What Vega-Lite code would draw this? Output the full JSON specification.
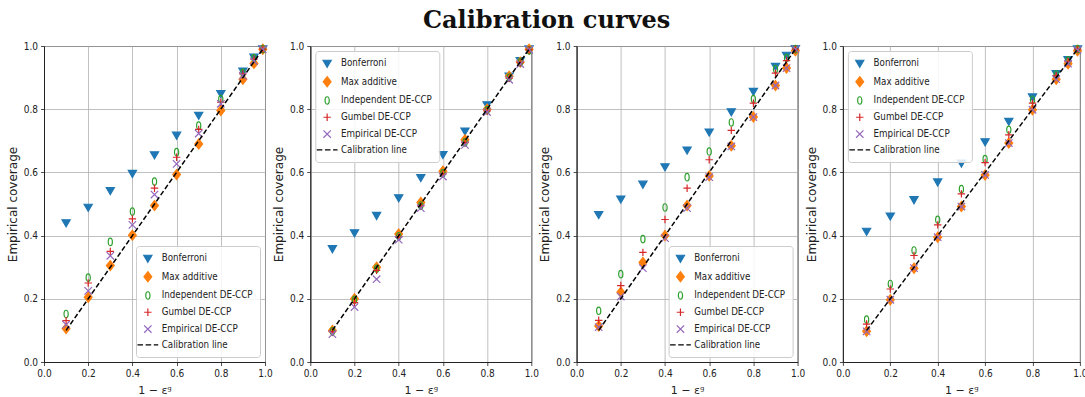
{
  "$schema": "https://vega.github.io/schema/vega-lite/v6.json",
  "title": {"text": "Calibration curves", "font": "DejaVu Serif", "fontWeight": "bold", "fontSize": 24, "color": "#111", "anchor": "middle", "offset": 8},
  "padding": {"left": 5, "top": 8, "right": 5, "bottom": 5},
  "bounds": "flush",
  "spacing": 45.3,
  "datasets": {
    "calib": [
      {"x": 0.1, "y": 0.1}, {"x": 0.2, "y": 0.2}, {"x": 0.3, "y": 0.3}, {"x": 0.4, "y": 0.4}, {"x": 0.5, "y": 0.5}, {"x": 0.6, "y": 0.6}, {"x": 0.7, "y": 0.7}, {"x": 0.8, "y": 0.8}, {"x": 0.9, "y": 0.9}, {"x": 0.95, "y": 0.95}, {"x": 0.99, "y": 0.99}
    ],
    "p1": [
      {"series": "Bonferroni", "x": 0.1, "y": 0.442}, {"series": "Bonferroni", "x": 0.2, "y": 0.491}, {"series": "Bonferroni", "x": 0.3, "y": 0.544}, {"series": "Bonferroni", "x": 0.4, "y": 0.598}, {"series": "Bonferroni", "x": 0.5, "y": 0.657}, {"series": "Bonferroni", "x": 0.6, "y": 0.719}, {"series": "Bonferroni", "x": 0.7, "y": 0.782}, {"series": "Bonferroni", "x": 0.8, "y": 0.851}, {"series": "Bonferroni", "x": 0.9, "y": 0.922}, {"series": "Bonferroni", "x": 0.95, "y": 0.966}, {"series": "Bonferroni", "x": 0.99, "y": 0.992},
      {"series": "Max additive", "x": 0.1, "y": 0.106}, {"series": "Max additive", "x": 0.2, "y": 0.205}, {"series": "Max additive", "x": 0.3, "y": 0.305}, {"series": "Max additive", "x": 0.4, "y": 0.401}, {"series": "Max additive", "x": 0.5, "y": 0.495}, {"series": "Max additive", "x": 0.6, "y": 0.593}, {"series": "Max additive", "x": 0.7, "y": 0.69}, {"series": "Max additive", "x": 0.8, "y": 0.796}, {"series": "Max additive", "x": 0.9, "y": 0.895}, {"series": "Max additive", "x": 0.95, "y": 0.945}, {"series": "Max additive", "x": 0.99, "y": 0.99},
      {"series": "Independent DE-CCP", "x": 0.1, "y": 0.152}, {"series": "Independent DE-CCP", "x": 0.2, "y": 0.267}, {"series": "Independent DE-CCP", "x": 0.3, "y": 0.38}, {"series": "Independent DE-CCP", "x": 0.4, "y": 0.476}, {"series": "Independent DE-CCP", "x": 0.5, "y": 0.571}, {"series": "Independent DE-CCP", "x": 0.6, "y": 0.664}, {"series": "Independent DE-CCP", "x": 0.7, "y": 0.748}, {"series": "Independent DE-CCP", "x": 0.8, "y": 0.832}, {"series": "Independent DE-CCP", "x": 0.9, "y": 0.915}, {"series": "Independent DE-CCP", "x": 0.95, "y": 0.962}, {"series": "Independent DE-CCP", "x": 0.99, "y": 0.99},
      {"series": "Gumbel DE-CCP", "x": 0.1, "y": 0.131}, {"series": "Gumbel DE-CCP", "x": 0.2, "y": 0.25}, {"series": "Gumbel DE-CCP", "x": 0.3, "y": 0.35}, {"series": "Gumbel DE-CCP", "x": 0.4, "y": 0.453}, {"series": "Gumbel DE-CCP", "x": 0.5, "y": 0.55}, {"series": "Gumbel DE-CCP", "x": 0.6, "y": 0.648}, {"series": "Gumbel DE-CCP", "x": 0.7, "y": 0.736}, {"series": "Gumbel DE-CCP", "x": 0.8, "y": 0.822}, {"series": "Gumbel DE-CCP", "x": 0.9, "y": 0.912}, {"series": "Gumbel DE-CCP", "x": 0.95, "y": 0.958}, {"series": "Gumbel DE-CCP", "x": 0.99, "y": 0.99},
      {"series": "Empirical DE-CCP", "x": 0.1, "y": 0.118}, {"series": "Empirical DE-CCP", "x": 0.2, "y": 0.225}, {"series": "Empirical DE-CCP", "x": 0.3, "y": 0.336}, {"series": "Empirical DE-CCP", "x": 0.4, "y": 0.434}, {"series": "Empirical DE-CCP", "x": 0.5, "y": 0.53}, {"series": "Empirical DE-CCP", "x": 0.6, "y": 0.627}, {"series": "Empirical DE-CCP", "x": 0.7, "y": 0.723}, {"series": "Empirical DE-CCP", "x": 0.8, "y": 0.817}, {"series": "Empirical DE-CCP", "x": 0.9, "y": 0.906}, {"series": "Empirical DE-CCP", "x": 0.95, "y": 0.952}, {"series": "Empirical DE-CCP", "x": 0.99, "y": 0.99}
    ],
    "p2": [
      {"series": "Bonferroni", "x": 0.1, "y": 0.36}, {"series": "Bonferroni", "x": 0.2, "y": 0.41}, {"series": "Bonferroni", "x": 0.3, "y": 0.465}, {"series": "Bonferroni", "x": 0.4, "y": 0.521}, {"series": "Bonferroni", "x": 0.5, "y": 0.585}, {"series": "Bonferroni", "x": 0.6, "y": 0.658}, {"series": "Bonferroni", "x": 0.7, "y": 0.732}, {"series": "Bonferroni", "x": 0.8, "y": 0.815}, {"series": "Bonferroni", "x": 0.9, "y": 0.906}, {"series": "Bonferroni", "x": 0.95, "y": 0.955}, {"series": "Bonferroni", "x": 0.99, "y": 0.992},
      {"series": "Max additive", "x": 0.1, "y": 0.1}, {"series": "Max additive", "x": 0.2, "y": 0.2}, {"series": "Max additive", "x": 0.3, "y": 0.3}, {"series": "Max additive", "x": 0.4, "y": 0.405}, {"series": "Max additive", "x": 0.5, "y": 0.505}, {"series": "Max additive", "x": 0.6, "y": 0.604}, {"series": "Max additive", "x": 0.7, "y": 0.703}, {"series": "Max additive", "x": 0.8, "y": 0.8}, {"series": "Max additive", "x": 0.9, "y": 0.904}, {"series": "Max additive", "x": 0.95, "y": 0.949}, {"series": "Max additive", "x": 0.99, "y": 0.99},
      {"series": "Independent DE-CCP", "x": 0.1, "y": 0.097}, {"series": "Independent DE-CCP", "x": 0.2, "y": 0.197}, {"series": "Independent DE-CCP", "x": 0.3, "y": 0.295}, {"series": "Independent DE-CCP", "x": 0.4, "y": 0.398}, {"series": "Independent DE-CCP", "x": 0.5, "y": 0.495}, {"series": "Independent DE-CCP", "x": 0.6, "y": 0.597}, {"series": "Independent DE-CCP", "x": 0.7, "y": 0.695}, {"series": "Independent DE-CCP", "x": 0.8, "y": 0.797}, {"series": "Independent DE-CCP", "x": 0.9, "y": 0.9}, {"series": "Independent DE-CCP", "x": 0.95, "y": 0.948}, {"series": "Independent DE-CCP", "x": 0.99, "y": 0.986},
      {"series": "Gumbel DE-CCP", "x": 0.1, "y": 0.096}, {"series": "Gumbel DE-CCP", "x": 0.2, "y": 0.188}, {"series": "Gumbel DE-CCP", "x": 0.3, "y": 0.29}, {"series": "Gumbel DE-CCP", "x": 0.4, "y": 0.395}, {"series": "Gumbel DE-CCP", "x": 0.5, "y": 0.494}, {"series": "Gumbel DE-CCP", "x": 0.6, "y": 0.595}, {"series": "Gumbel DE-CCP", "x": 0.7, "y": 0.694}, {"series": "Gumbel DE-CCP", "x": 0.8, "y": 0.795}, {"series": "Gumbel DE-CCP", "x": 0.9, "y": 0.898}, {"series": "Gumbel DE-CCP", "x": 0.95, "y": 0.947}, {"series": "Gumbel DE-CCP", "x": 0.99, "y": 0.988},
      {"series": "Empirical DE-CCP", "x": 0.1, "y": 0.088}, {"series": "Empirical DE-CCP", "x": 0.2, "y": 0.174}, {"series": "Empirical DE-CCP", "x": 0.3, "y": 0.262}, {"series": "Empirical DE-CCP", "x": 0.4, "y": 0.387}, {"series": "Empirical DE-CCP", "x": 0.5, "y": 0.487}, {"series": "Empirical DE-CCP", "x": 0.6, "y": 0.587}, {"series": "Empirical DE-CCP", "x": 0.7, "y": 0.687}, {"series": "Empirical DE-CCP", "x": 0.8, "y": 0.791}, {"series": "Empirical DE-CCP", "x": 0.9, "y": 0.893}, {"series": "Empirical DE-CCP", "x": 0.95, "y": 0.943}, {"series": "Empirical DE-CCP", "x": 0.99, "y": 0.988}
    ],
    "p3": [
      {"series": "Bonferroni", "x": 0.1, "y": 0.468}, {"series": "Bonferroni", "x": 0.2, "y": 0.517}, {"series": "Bonferroni", "x": 0.3, "y": 0.564}, {"series": "Bonferroni", "x": 0.4, "y": 0.619}, {"series": "Bonferroni", "x": 0.5, "y": 0.672}, {"series": "Bonferroni", "x": 0.6, "y": 0.729}, {"series": "Bonferroni", "x": 0.7, "y": 0.793}, {"series": "Bonferroni", "x": 0.8, "y": 0.858}, {"series": "Bonferroni", "x": 0.9, "y": 0.937}, {"series": "Bonferroni", "x": 0.95, "y": 0.972}, {"series": "Bonferroni", "x": 0.99, "y": 0.993},
      {"series": "Max additive", "x": 0.1, "y": 0.114}, {"series": "Max additive", "x": 0.2, "y": 0.221}, {"series": "Max additive", "x": 0.3, "y": 0.315}, {"series": "Max additive", "x": 0.4, "y": 0.4}, {"series": "Max additive", "x": 0.5, "y": 0.495}, {"series": "Max additive", "x": 0.6, "y": 0.589}, {"series": "Max additive", "x": 0.7, "y": 0.684}, {"series": "Max additive", "x": 0.8, "y": 0.775}, {"series": "Max additive", "x": 0.9, "y": 0.875}, {"series": "Max additive", "x": 0.95, "y": 0.93}, {"series": "Max additive", "x": 0.99, "y": 0.985},
      {"series": "Independent DE-CCP", "x": 0.1, "y": 0.162}, {"series": "Independent DE-CCP", "x": 0.2, "y": 0.278}, {"series": "Independent DE-CCP", "x": 0.3, "y": 0.389}, {"series": "Independent DE-CCP", "x": 0.4, "y": 0.489}, {"series": "Independent DE-CCP", "x": 0.5, "y": 0.585}, {"series": "Independent DE-CCP", "x": 0.6, "y": 0.666}, {"series": "Independent DE-CCP", "x": 0.7, "y": 0.758}, {"series": "Independent DE-CCP", "x": 0.8, "y": 0.832}, {"series": "Independent DE-CCP", "x": 0.9, "y": 0.927}, {"series": "Independent DE-CCP", "x": 0.95, "y": 0.962}, {"series": "Independent DE-CCP", "x": 0.99, "y": 0.99},
      {"series": "Gumbel DE-CCP", "x": 0.1, "y": 0.132}, {"series": "Gumbel DE-CCP", "x": 0.2, "y": 0.242}, {"series": "Gumbel DE-CCP", "x": 0.3, "y": 0.347}, {"series": "Gumbel DE-CCP", "x": 0.4, "y": 0.451}, {"series": "Gumbel DE-CCP", "x": 0.5, "y": 0.55}, {"series": "Gumbel DE-CCP", "x": 0.6, "y": 0.64}, {"series": "Gumbel DE-CCP", "x": 0.7, "y": 0.733}, {"series": "Gumbel DE-CCP", "x": 0.8, "y": 0.819}, {"series": "Gumbel DE-CCP", "x": 0.9, "y": 0.914}, {"series": "Gumbel DE-CCP", "x": 0.95, "y": 0.954}, {"series": "Gumbel DE-CCP", "x": 0.99, "y": 0.99},
      {"series": "Empirical DE-CCP", "x": 0.1, "y": 0.11}, {"series": "Empirical DE-CCP", "x": 0.2, "y": 0.207}, {"series": "Empirical DE-CCP", "x": 0.3, "y": 0.297}, {"series": "Empirical DE-CCP", "x": 0.4, "y": 0.392}, {"series": "Empirical DE-CCP", "x": 0.5, "y": 0.487}, {"series": "Empirical DE-CCP", "x": 0.6, "y": 0.585}, {"series": "Empirical DE-CCP", "x": 0.7, "y": 0.682}, {"series": "Empirical DE-CCP", "x": 0.8, "y": 0.775}, {"series": "Empirical DE-CCP", "x": 0.9, "y": 0.875}, {"series": "Empirical DE-CCP", "x": 0.95, "y": 0.93}, {"series": "Empirical DE-CCP", "x": 0.99, "y": 0.99}
    ],
    "p4": [
      {"series": "Bonferroni", "x": 0.1, "y": 0.415}, {"series": "Bonferroni", "x": 0.2, "y": 0.463}, {"series": "Bonferroni", "x": 0.3, "y": 0.515}, {"series": "Bonferroni", "x": 0.4, "y": 0.571}, {"series": "Bonferroni", "x": 0.5, "y": 0.631}, {"series": "Bonferroni", "x": 0.6, "y": 0.698}, {"series": "Bonferroni", "x": 0.7, "y": 0.763}, {"series": "Bonferroni", "x": 0.8, "y": 0.84}, {"series": "Bonferroni", "x": 0.9, "y": 0.914}, {"series": "Bonferroni", "x": 0.95, "y": 0.958}, {"series": "Bonferroni", "x": 0.99, "y": 0.992},
      {"series": "Max additive", "x": 0.1, "y": 0.097}, {"series": "Max additive", "x": 0.2, "y": 0.197}, {"series": "Max additive", "x": 0.3, "y": 0.297}, {"series": "Max additive", "x": 0.4, "y": 0.395}, {"series": "Max additive", "x": 0.5, "y": 0.492}, {"series": "Max additive", "x": 0.6, "y": 0.592}, {"series": "Max additive", "x": 0.7, "y": 0.693}, {"series": "Max additive", "x": 0.8, "y": 0.798}, {"series": "Max additive", "x": 0.9, "y": 0.895}, {"series": "Max additive", "x": 0.95, "y": 0.944}, {"series": "Max additive", "x": 0.99, "y": 0.985},
      {"series": "Independent DE-CCP", "x": 0.1, "y": 0.134}, {"series": "Independent DE-CCP", "x": 0.2, "y": 0.247}, {"series": "Independent DE-CCP", "x": 0.3, "y": 0.353}, {"series": "Independent DE-CCP", "x": 0.4, "y": 0.45}, {"series": "Independent DE-CCP", "x": 0.5, "y": 0.547}, {"series": "Independent DE-CCP", "x": 0.6, "y": 0.642}, {"series": "Independent DE-CCP", "x": 0.7, "y": 0.735}, {"series": "Independent DE-CCP", "x": 0.8, "y": 0.83}, {"series": "Independent DE-CCP", "x": 0.9, "y": 0.91}, {"series": "Independent DE-CCP", "x": 0.95, "y": 0.955}, {"series": "Independent DE-CCP", "x": 0.99, "y": 0.99},
      {"series": "Gumbel DE-CCP", "x": 0.1, "y": 0.12}, {"series": "Gumbel DE-CCP", "x": 0.2, "y": 0.231}, {"series": "Gumbel DE-CCP", "x": 0.3, "y": 0.337}, {"series": "Gumbel DE-CCP", "x": 0.4, "y": 0.434}, {"series": "Gumbel DE-CCP", "x": 0.5, "y": 0.532}, {"series": "Gumbel DE-CCP", "x": 0.6, "y": 0.631}, {"series": "Gumbel DE-CCP", "x": 0.7, "y": 0.719}, {"series": "Gumbel DE-CCP", "x": 0.8, "y": 0.819}, {"series": "Gumbel DE-CCP", "x": 0.9, "y": 0.906}, {"series": "Gumbel DE-CCP", "x": 0.95, "y": 0.951}, {"series": "Gumbel DE-CCP", "x": 0.99, "y": 0.99},
      {"series": "Empirical DE-CCP", "x": 0.1, "y": 0.097}, {"series": "Empirical DE-CCP", "x": 0.2, "y": 0.197}, {"series": "Empirical DE-CCP", "x": 0.3, "y": 0.297}, {"series": "Empirical DE-CCP", "x": 0.4, "y": 0.395}, {"series": "Empirical DE-CCP", "x": 0.5, "y": 0.492}, {"series": "Empirical DE-CCP", "x": 0.6, "y": 0.592}, {"series": "Empirical DE-CCP", "x": 0.7, "y": 0.693}, {"series": "Empirical DE-CCP", "x": 0.8, "y": 0.798}, {"series": "Empirical DE-CCP", "x": 0.9, "y": 0.895}, {"series": "Empirical DE-CCP", "x": 0.95, "y": 0.944}, {"series": "Empirical DE-CCP", "x": 0.99, "y": 0.988}
    ]
  },
  "hconcat": [
    {
      "width": 221, "height": 316,
      "layer": [
        {
          "data": {"name": "p1"},
          "mark": {"type": "point", "filled": true, "opacity": 1, "size": 55, "strokeWidth": 1.2},
          "encoding": {
            "x": {"field": "x", "type": "quantitative", "scale": {"domain": [0, 1]}, "axis": {"values": [0, 0.2, 0.4, 0.6, 0.8, 1], "format": ".1f", "title": "1 − εᵍ", "labelFlush": false, "titleFontSize": 11, "titlePadding": 6}},
            "y": {"field": "y", "type": "quantitative", "scale": {"domain": [0, 1]}, "axis": {"values": [0, 0.2, 0.4, 0.6, 0.8, 1], "format": ".1f", "title": "Empirical coverage"}},
            "shape": {"field": "series", "type": "nominal", "scale": {"domain": ["Bonferroni", "Max additive", "Independent DE-CCP", "Gumbel DE-CCP", "Empirical DE-CCP", "Calibration line"], "range": ["M-1.1,-0.7L1.1,-0.7L0,1.2Z", "M0,-1.35L1.05,0L0,1.35L-1.05,0Z", "M0,-1C0.75,-1 0.75,1 0,1C-0.75,1 -0.75,-1 0,-1Z", "M-1,0H1M0,-1V1", "M-1,-1L1,1M-1,1L1,-1", "M-2.8,0H-1.3M-0.6,0H0.9M1.6,0H2.8"]}, "legend": {"title": null, "orient": "bottom-right"}},
            "fill": {"field": "series", "type": "nominal", "scale": {"domain": ["Bonferroni", "Max additive", "Independent DE-CCP", "Gumbel DE-CCP", "Empirical DE-CCP", "Calibration line"], "range": ["#1f77b4", "#ff7f0e", "transparent", "transparent", "transparent", "transparent"]}, "legend": {"title": null, "orient": "bottom-right"}},
            "stroke": {"field": "series", "type": "nominal", "scale": {"domain": ["Bonferroni", "Max additive", "Independent DE-CCP", "Gumbel DE-CCP", "Empirical DE-CCP", "Calibration line"], "range": ["#1f77b4", "#ff7f0e", "#2ca02c", "#d62728", "#9467bd", "#000000"]}, "legend": {"title": null, "orient": "bottom-right"}}
          }
        },
        {
          "data": {"name": "calib"},
          "mark": {"type": "line", "color": "#000000", "strokeWidth": 1.5, "strokeDash": [5, 2.5]},
          "encoding": {"x": {"field": "x", "type": "quantitative"}, "y": {"field": "y", "type": "quantitative"}}
        }
      ]
    },
    {
      "width": 221, "height": 316,
      "layer": [
        {
          "data": {"name": "p2"},
          "mark": {"type": "point", "filled": true, "opacity": 1, "size": 55, "strokeWidth": 1.2},
          "encoding": {
            "x": {"field": "x", "type": "quantitative", "scale": {"domain": [0, 1]}, "axis": {"values": [0, 0.2, 0.4, 0.6, 0.8, 1], "format": ".1f", "title": "1 − εᵍ", "labelFlush": false, "titleFontSize": 11, "titlePadding": 6}},
            "y": {"field": "y", "type": "quantitative", "scale": {"domain": [0, 1]}, "axis": {"values": [0, 0.2, 0.4, 0.6, 0.8, 1], "format": ".1f", "title": "Empirical coverage"}},
            "shape": {"field": "series", "type": "nominal", "scale": {"domain": ["Bonferroni", "Max additive", "Independent DE-CCP", "Gumbel DE-CCP", "Empirical DE-CCP", "Calibration line"], "range": ["M-1.1,-0.7L1.1,-0.7L0,1.2Z", "M0,-1.35L1.05,0L0,1.35L-1.05,0Z", "M0,-1C0.75,-1 0.75,1 0,1C-0.75,1 -0.75,-1 0,-1Z", "M-1,0H1M0,-1V1", "M-1,-1L1,1M-1,1L1,-1", "M-2.8,0H-1.3M-0.6,0H0.9M1.6,0H2.8"]}, "legend": {"title": null, "orient": "top-left"}},
            "fill": {"field": "series", "type": "nominal", "scale": {"domain": ["Bonferroni", "Max additive", "Independent DE-CCP", "Gumbel DE-CCP", "Empirical DE-CCP", "Calibration line"], "range": ["#1f77b4", "#ff7f0e", "transparent", "transparent", "transparent", "transparent"]}, "legend": {"title": null, "orient": "top-left"}},
            "stroke": {"field": "series", "type": "nominal", "scale": {"domain": ["Bonferroni", "Max additive", "Independent DE-CCP", "Gumbel DE-CCP", "Empirical DE-CCP", "Calibration line"], "range": ["#1f77b4", "#ff7f0e", "#2ca02c", "#d62728", "#9467bd", "#000000"]}, "legend": {"title": null, "orient": "top-left"}}
          }
        },
        {
          "data": {"name": "calib"},
          "mark": {"type": "line", "color": "#000000", "strokeWidth": 1.5, "strokeDash": [5, 2.5]},
          "encoding": {"x": {"field": "x", "type": "quantitative"}, "y": {"field": "y", "type": "quantitative"}}
        }
      ]
    },
    {
      "width": 221, "height": 316,
      "layer": [
        {
          "data": {"name": "p3"},
          "mark": {"type": "point", "filled": true, "opacity": 1, "size": 55, "strokeWidth": 1.2},
          "encoding": {
            "x": {"field": "x", "type": "quantitative", "scale": {"domain": [0, 1]}, "axis": {"values": [0, 0.2, 0.4, 0.6, 0.8, 1], "format": ".1f", "title": "1 − εᵍ", "labelFlush": false, "titleFontSize": 11, "titlePadding": 6}},
            "y": {"field": "y", "type": "quantitative", "scale": {"domain": [0, 1]}, "axis": {"values": [0, 0.2, 0.4, 0.6, 0.8, 1], "format": ".1f", "title": "Empirical coverage"}},
            "shape": {"field": "series", "type": "nominal", "scale": {"domain": ["Bonferroni", "Max additive", "Independent DE-CCP", "Gumbel DE-CCP", "Empirical DE-CCP", "Calibration line"], "range": ["M-1.1,-0.7L1.1,-0.7L0,1.2Z", "M0,-1.35L1.05,0L0,1.35L-1.05,0Z", "M0,-1C0.75,-1 0.75,1 0,1C-0.75,1 -0.75,-1 0,-1Z", "M-1,0H1M0,-1V1", "M-1,-1L1,1M-1,1L1,-1", "M-2.8,0H-1.3M-0.6,0H0.9M1.6,0H2.8"]}, "legend": {"title": null, "orient": "bottom-right"}},
            "fill": {"field": "series", "type": "nominal", "scale": {"domain": ["Bonferroni", "Max additive", "Independent DE-CCP", "Gumbel DE-CCP", "Empirical DE-CCP", "Calibration line"], "range": ["#1f77b4", "#ff7f0e", "transparent", "transparent", "transparent", "transparent"]}, "legend": {"title": null, "orient": "bottom-right"}},
            "stroke": {"field": "series", "type": "nominal", "scale": {"domain": ["Bonferroni", "Max additive", "Independent DE-CCP", "Gumbel DE-CCP", "Empirical DE-CCP", "Calibration line"], "range": ["#1f77b4", "#ff7f0e", "#2ca02c", "#d62728", "#9467bd", "#000000"]}, "legend": {"title": null, "orient": "bottom-right"}}
          }
        },
        {
          "data": {"name": "calib"},
          "mark": {"type": "line", "color": "#000000", "strokeWidth": 1.5, "strokeDash": [5, 2.5]},
          "encoding": {"x": {"field": "x", "type": "quantitative"}, "y": {"field": "y", "type": "quantitative"}}
        }
      ]
    },
    {
      "width": 237, "height": 316,
      "layer": [
        {
          "data": {"name": "p4"},
          "mark": {"type": "point", "filled": true, "opacity": 1, "size": 55, "strokeWidth": 1.2},
          "encoding": {
            "x": {"field": "x", "type": "quantitative", "scale": {"domain": [0, 1]}, "axis": {"values": [0, 0.2, 0.4, 0.6, 0.8, 1], "format": ".1f", "title": "1 − εᵍ", "labelFlush": false, "titleFontSize": 11, "titlePadding": 6}},
            "y": {"field": "y", "type": "quantitative", "scale": {"domain": [0, 1]}, "axis": {"values": [0, 0.2, 0.4, 0.6, 0.8, 1], "format": ".1f", "title": "Empirical coverage"}},
            "shape": {"field": "series", "type": "nominal", "scale": {"domain": ["Bonferroni", "Max additive", "Independent DE-CCP", "Gumbel DE-CCP", "Empirical DE-CCP", "Calibration line"], "range": ["M-1.1,-0.7L1.1,-0.7L0,1.2Z", "M0,-1.35L1.05,0L0,1.35L-1.05,0Z", "M0,-1C0.75,-1 0.75,1 0,1C-0.75,1 -0.75,-1 0,-1Z", "M-1,0H1M0,-1V1", "M-1,-1L1,1M-1,1L1,-1", "M-2.8,0H-1.3M-0.6,0H0.9M1.6,0H2.8"]}, "legend": {"title": null, "orient": "top-left"}},
            "fill": {"field": "series", "type": "nominal", "scale": {"domain": ["Bonferroni", "Max additive", "Independent DE-CCP", "Gumbel DE-CCP", "Empirical DE-CCP", "Calibration line"], "range": ["#1f77b4", "#ff7f0e", "transparent", "transparent", "transparent", "transparent"]}, "legend": {"title": null, "orient": "top-left"}},
            "stroke": {"field": "series", "type": "nominal", "scale": {"domain": ["Bonferroni", "Max additive", "Independent DE-CCP", "Gumbel DE-CCP", "Empirical DE-CCP", "Calibration line"], "range": ["#1f77b4", "#ff7f0e", "#2ca02c", "#d62728", "#9467bd", "#000000"]}, "legend": {"title": null, "orient": "top-left"}}
          }
        },
        {
          "data": {"name": "calib"},
          "mark": {"type": "line", "color": "#000000", "strokeWidth": 1.5, "strokeDash": [5, 2.5]},
          "encoding": {"x": {"field": "x", "type": "quantitative"}, "y": {"field": "y", "type": "quantitative"}}
        }
      ]
    }
  ],
  "resolve": {
    "scale": {"shape": "independent", "fill": "independent", "stroke": "independent"},
    "legend": {"shape": "independent", "fill": "independent", "stroke": "independent"}
  },
  "config": {
    "font": "DejaVu Sans",
    "view": {"stroke": "#222222", "strokeWidth": 1},
    "axis": {
      "grid": true, "gridColor": "#b0b0b0", "gridWidth": 0.8,
      "domainColor": "#222222", "domainWidth": 1,
      "tickColor": "#222222", "tickSize": 3.5, "tickWidth": 0.8,
      "labelFont": "DejaVu Sans Condensed, DejaVu Sans", "labelFontSize": 10, "labelColor": "#222222", "labelPadding": 3,
      "titleFont": "DejaVu Sans", "titleFontWeight": "normal", "titleFontSize": 12, "titleColor": "#222222", "titlePadding": 4
    },
    "legend": {
      "labelFont": "DejaVu Sans Condensed, DejaVu Sans", "labelFontSize": 9.7, "labelColor": "#222222",
      "symbolSize": 55, "symbolStrokeWidth": 1.2,
      "strokeColor": "#cccccc", "fillColor": "rgba(255,255,255,0.85)", "cornerRadius": 3,
      "padding": 7, "rowPadding": 3.8, "offset": 5, "labelOffset": 9
    }
  }
}
